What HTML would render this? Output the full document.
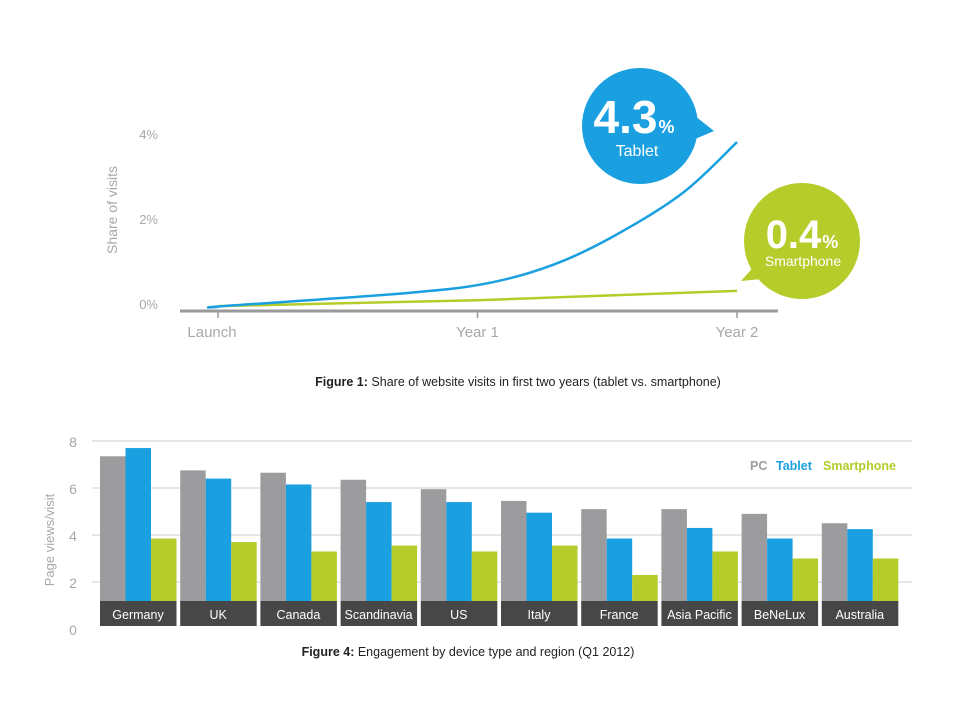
<!DOCTYPE html>
<html><head><meta charset="utf-8"><style>
body{margin:0;background:#fff;font-family:"Liberation Sans",sans-serif}
svg{display:block}
</style></head><body>
<svg width="960" height="720" viewBox="0 0 960 720">
<g id="fig1"></g>
<g id="fig4"></g>
</svg>
<script>
// ---- Figure 1 data ----
const lineYears = [0, 0.02, 0.73, 1.04, 1.29, 1.52, 1.79, 2.0];
const tabletShare = [0.0, 0.02, 0.33, 0.56, 0.99, 1.65, 2.68, 3.88];
const phoneYears = [0.0, 0.5, 1.0, 1.5, 2.0];
const phoneShare = [0.02, 0.09, 0.16, 0.27, 0.38];
const xTickLabels = ["Launch", "Year 1", "Year 2"];
const xTickValues = [0, 1, 2];
const yTickValues = [0, 2, 4];
// ---- Figure 4 data ----
const regions = ["Germany","UK","Canada","Scandinavia","US","Italy","France","Asia Pacific","BeNeLux","Australia"];
const pcViews = [7.35,6.75,6.65,6.35,5.95,5.45,5.1,5.1,4.9,4.5];
const tabletViews = [7.7,6.4,6.15,5.4,5.4,4.95,3.85,4.3,3.85,4.25];
const phoneViews = [3.85,3.7,3.3,3.55,3.3,3.55,2.3,3.3,3.0,3.0];
const barTicks = [0,2,4,6,8];

const NS="http://www.w3.org/2000/svg";
function mk(parent,tag,attrs,text){const e=document.createElementNS(NS,tag);for(const k in attrs)e.setAttribute(k,attrs[k]);if(text!==undefined)e.textContent=text;parent.appendChild(e);return e;}
const BLUE="#1aa0e0", GREEN="#b5cc2a", GRAY="#9c9c9e";

// Figure 1
const f1=document.getElementById('fig1');
const x1=v=>218+v*259.5;
const y1=v=>307-v*42.5;
let e;
e=mk(f1,'line',{x1:180,y1:311,x2:778,y2:311,stroke:"#9a9a9a","stroke-width":3});

xTickValues.forEach((v,i)=>{
  e=mk(f1,'line',{x1:x1(v),y1:311,x2:x1(v),y2:318,stroke:"#9a9a9a","stroke-width":1.5});
  
  e=mk(f1,'text',{x:x1(v)-(i==0?6:0),y:337,"text-anchor":"middle","font-size":15,fill:"#a8a8a8"},xTickLabels[i]);
  
});
yTickValues.forEach(v=>{
  e=mk(f1,'text',{x:158,y:y1(v)+2,"text-anchor":"end","font-size":13,fill:"#a8a8a8"},v+"%");
  
});
e=mk(f1,'text',{x:0,y:0,transform:"translate(117,210) rotate(-90)","text-anchor":"middle","font-size":14,fill:"#a8a8a8"},"Share of visits");

e=mk(f1,'polyline',{points:phoneYears.map((t,i)=>x1(t)+","+y1(phoneShare[i])).join(" "),fill:"none",stroke:GREEN,"stroke-width":2.5});

// smooth tablet curve (Catmull-Rom through data points)
const tp=lineYears.map((t,i)=>[x1(t),y1(tabletShare[i])]);
let d="M"+tp[0][0]+","+tp[0][1];
for(let i=0;i<tp.length-1;i++){
  const p0=tp[Math.max(0,i-1)],p1=tp[i],p2=tp[i+1],p3=tp[Math.min(tp.length-1,i+2)];
  const c1=[p1[0]+(p2[0]-p0[0])/6,p1[1]+(p2[1]-p0[1])/6];
  const c2=[p2[0]-(p3[0]-p1[0])/6,p2[1]-(p3[1]-p1[1])/6];
  d+=" C"+c1[0]+","+c1[1]+" "+c2[0]+","+c2[1]+" "+p2[0]+","+p2[1];
}
e=mk(f1,'path',{d:d,fill:"none",stroke:BLUE,"stroke-width":2.5});

// bubbles
e=mk(f1,'path',{d:"M690,112 L714,131 L688,142 Z",fill:BLUE});

e=mk(f1,'circle',{cx:640,cy:126,r:58,fill:BLUE});

e=mk(f1,'text',{x:634,y:133,"text-anchor":"middle","font-size":46,"font-weight":"bold",fill:"#fff"});
e.innerHTML='4.3<tspan font-size="18" dx="1">%</tspan>';

e=mk(f1,'text',{x:637,y:156,"text-anchor":"middle","font-size":16,fill:"#fff"},"Tablet");

e=mk(f1,'path',{d:"M758,262 L741,281 L772,278 Z",fill:GREEN});

e=mk(f1,'circle',{cx:802,cy:241,r:58,fill:GREEN});

e=mk(f1,'text',{x:802,y:248,"text-anchor":"middle","font-size":40,"font-weight":"bold",fill:"#fff"});
e.innerHTML='0.4<tspan font-size="18" dx="1">%</tspan>';

e=mk(f1,'text',{x:803,y:266,"text-anchor":"middle","font-size":14,fill:"#fff"},"Smartphone");

e=mk(f1,'text',{x:518,y:386,"text-anchor":"middle","font-size":12.5,fill:"#222"});
e.innerHTML='<tspan font-weight="bold">Figure 1:</tspan> Share of website visits in first two years (tablet vs. smartphone)';


// Figure 4
const f4=document.getElementById('fig4');
const y4=v=>629-v*23.5;
barTicks.forEach(v=>{
  if(v>0){e=mk(f4,'line',{x1:92,y1:y4(v),x2:912,y2:y4(v),stroke:"#e6e6e6","stroke-width":2});
  }
  e=mk(f4,'text',{x:73,y:y4(v)+6,"text-anchor":"middle","font-size":14,fill:"#a8a8a8"},String(v));
  
});
e=mk(f4,'text',{x:0,y:0,transform:"translate(54,540) rotate(-90)","text-anchor":"middle","font-size":13,fill:"#a8a8a8"},"Page views/visit");

const base=602;
regions.forEach((r,i)=>{
  const gx=100+i*80.2;
  const series=[[pcViews,GRAY,'bar-pc'],[tabletViews,BLUE,'bar-tablet'],[phoneViews,GREEN,'bar-smartphone']];
  series.forEach((s,j)=>{
    const v=s[0][i];
    const b=mk(f4,'rect',{x:gx+j*25.5,y:y4(v),width:25.5,height:base-y4(v),fill:s[1]});
    
    
  });
  e=mk(f4,'rect',{x:gx,y:601,width:76.5,height:25,fill:"#474747"});
  
  e=mk(f4,'text',{x:gx+38,y:619,"text-anchor":"middle","font-size":12.5,fill:"#fff"},r);
  
});
const leg=[["PC",GRAY,750],["Tablet",BLUE,776],["Smartphone",GREEN,823]];
leg.forEach(l=>{
  e=mk(f4,'text',{x:l[2],y:470,"font-size":12.5,fill:l[1],"font-weight":"bold"},l[0]);
  
});
e=mk(f4,'text',{x:468,y:656,"text-anchor":"middle","font-size":12.5,fill:"#222"});
e.innerHTML='<tspan font-weight="bold">Figure 4:</tspan> Engagement by device type and region (Q1 2012)';

</script>
</body></html>
